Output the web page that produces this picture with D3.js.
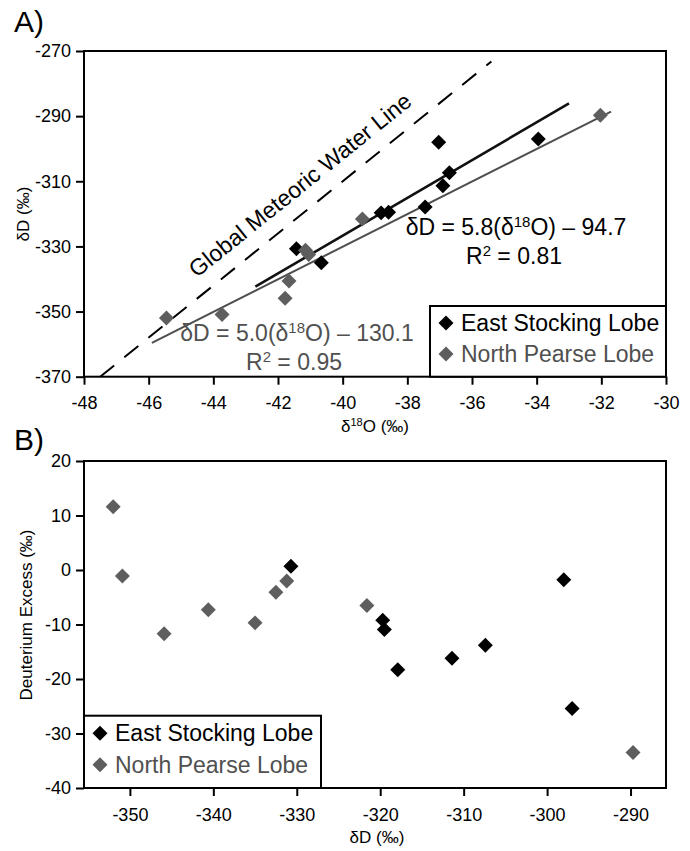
<!DOCTYPE html>
<html>
<head>
<meta charset="utf-8">
<script src="https://cdn.jsdelivr.net/npm/d3@7"></script>
<style>
  html, body { margin: 0; padding: 0; background: #fff; }
  svg text { font-family: "Liberation Sans", Arial, Helvetica, sans-serif; }
</style>
</head>
<body>
<svg id="chart" width="690" height="851"></svg>
<script>
// ---- Panel A: δ18O vs δD ----
const esO18_A = [-41.43, -40.66, -38.81, -38.58, -37.45, -36.90, -36.70, -37.03, -33.95];
const esDD_A  = [-330.7, -335.0, -319.7, -319.5, -317.9, -311.4, -307.4, -298.0, -297.0];
const npO18_A = [-45.45, -43.73, -41.78, -41.66, -41.05, -41.15, -39.39, -32.03];
const npDD_A  = [-352.0, -350.9, -345.9, -340.6, -332.5, -331.2, -321.6, -289.7];

// regression fits (slope, intercept) and the δ18O span each line covers
const esFit = [5.8, -94.7];
const npFit = [5.0, -130.1];
const gmwlFit = [8, 10];
const esFitSpan = [-42.7, -33.0];
const npFitSpan = [-45.9, -31.7];
const gmwlSpan = [-47.5, -35.4];

const aXTicks = [-48, -46, -44, -42, -40, -38, -36, -34, -32, -30];
const aYTicks = [-370, -350, -330, -310, -290, -270];

// ---- Panel B: δD vs deuterium excess ----
const esDD_B  = [-330.7, -319.7, -319.5, -317.9, -311.4, -307.4, -298.0, -297.0];
const esDxs_B = [0.7, -9.2, -10.9, -18.3, -16.2, -13.8, -1.8, -25.4];
const npDD_B  = [-352.0, -350.9, -345.9, -340.6, -335.0, -332.5, -331.2, -321.6, -289.7];
const npDxs_B = [11.6, -1.1, -11.7, -7.3, -9.7, -4.1, -2.0, -6.5, -33.5];

const bXTicks = [-350, -340, -330, -320, -310, -300, -290];
const bYTicks = [-40, -30, -20, -10, 0, 10, 20];

const seriesNames = ["East Stocking Lobe", "North Pearse Lobe"];
const seriesColors = ["#000000", "#5e5e5e"];
const textColors = ["#000000", "#505050"];

const svg = d3.select("#chart");
const diamond = d3.symbol(d3.symbolSquare, 112);

const xA = d3.scaleLinear().domain([-48, -30]).range([84, 666]);
const yA = d3.scaleLinear().domain([-370, -270]).range([376.7, 51]);
const xB = d3.scaleLinear().domain([-355.5, -285.75]).range([84, 666]);
const yB = d3.scaleLinear().domain([-40, 20]).range([788, 461]);

function drawAxes(g, x, y, xt, yt) {
  const xa = g.append("g").attr("transform", `translate(0,${y.range()[0]})`)
    .call(d3.axisBottom(x).tickValues(xt).tickSize(8).tickPadding(12).tickFormat(d => String(d)));
  const ya = g.append("g").attr("transform", `translate(${x.range()[0]},0)`)
    .call(d3.axisLeft(y).tickValues(yt).tickSize(8).tickPadding(5).tickFormat(d => String(d)));
  [xa, ya].forEach(a => {
    a.select(".domain").remove();
    a.selectAll(".tick line").attr("stroke", "#000").attr("stroke-width", 2);
    a.selectAll(".tick text").attr("font-size", 18).attr("fill", "#000")
      .style("font-family", "'Liberation Sans', Arial, sans-serif");
  });
  g.append("rect")
    .attr("x", x.range()[0]).attr("y", y.range()[1])
    .attr("width", x.range()[1] - x.range()[0])
    .attr("height", y.range()[0] - y.range()[1])
    .attr("fill", "none").attr("stroke", "#000").attr("stroke-width", 2);
}

function drawPoints(g, x, y, xs, ys, color) {
  g.append("g").selectAll("path").data(xs.map((v, i) => [v, ys[i]])).join("path")
    .attr("d", diamond)
    .attr("transform", d => `translate(${x(d[0])},${y(d[1])}) rotate(45)`)
    .attr("fill", color);
}

function fitLine(g, fit, span, color, width, dash) {
  const pts = span.map(v => [xA(v), yA(fit[0] * v + fit[1])]);
  const p = g.append("path").attr("d", d3.line()(pts))
    .attr("stroke", color).attr("stroke-width", width).attr("fill", "none");
  if (dash) p.attr("stroke-dasharray", dash);
}

function legend(g, x0, y0, w, h, rows) {
  g.append("rect").attr("x", x0).attr("y", y0).attr("width", w).attr("height", h)
    .attr("fill", "#fff").attr("stroke", "#000").attr("stroke-width", 2);
  seriesNames.forEach((name, i) => {
    const cy = y0 + rows[i];
    g.append("path").attr("d", diamond)
      .attr("transform", `translate(${x0 + 16},${cy}) rotate(45)`)
      .attr("fill", seriesColors[i]);
    g.append("text").attr("x", x0 + 31).attr("y", cy + 8)
      .attr("font-size", 23).attr("fill", textColors[i]).text(name);
  });
}

function eqLabel(g, cx, by, slopeTxt, interceptTxt, color) {
  const t = g.append("text").attr("x", cx).attr("y", by).attr("text-anchor", "middle")
    .attr("font-size", 23).attr("fill", color);
  t.append("tspan").text(`δD = ${slopeTxt}(δ`);
  t.append("tspan").attr("dy", -8).attr("font-size", 15).text("18");
  t.append("tspan").attr("dy", 8).text(`O) – ${interceptTxt}`);
}

function r2Label(g, cx, by, r2, color) {
  const t = g.append("text").attr("x", cx).attr("y", by).attr("text-anchor", "middle")
    .attr("font-size", 23).attr("fill", color);
  t.append("tspan").text("R");
  t.append("tspan").attr("dy", -8).attr("font-size", 15).text("2");
  t.append("tspan").attr("dy", 8).text(` = ${r2}`);
}

// ---------------- Panel A ----------------
const gA = svg.append("g");
gA.append("text").attr("x", 14).attr("y", 32).attr("font-size", 30).text("A)");

// Global Meteoric Water Line with its label running along it
fitLine(gA, gmwlFit, gmwlSpan, "#000", 2, "18,13");
const ang = Math.atan2(yA(gmwlFit[0] * -40 + gmwlFit[1]) - yA(gmwlFit[0] * -44 + gmwlFit[1]),
                       xA(-40) - xA(-44)) * 180 / Math.PI;
const lblAt = -44.2;
gA.append("text")
  .attr("transform", `translate(${xA(lblAt)},${yA(gmwlFit[0] * lblAt + gmwlFit[1])}) rotate(${ang})`)
  .attr("x", 0).attr("y", -16).attr("font-size", 23).attr("fill", "#000")
  .text("Global Meteoric Water Line");

fitLine(gA, npFit, npFitSpan, "#4e4e4e", 2);
fitLine(gA, esFit, esFitSpan, "#111", 2.6);

drawPoints(gA, xA, yA, esO18_A, esDD_A, seriesColors[0]);
drawPoints(gA, xA, yA, npO18_A, npDD_A, seriesColors[1]);

eqLabel(gA, 516, 235, "5.8", "94.7", textColors[0]);
r2Label(gA, 514, 264, "0.81", textColors[0]);
eqLabel(gA, 297, 341, "5.0", "130.1", textColors[1]);
r2Label(gA, 294, 370, "0.95", textColors[1]);

drawAxes(gA, xA, yA, aXTicks, aYTicks);
legend(gA, 430, 306, 236, 70.7, [17, 48]);

// axis titles
const xtA = gA.append("text").attr("x", 375).attr("y", 432).attr("text-anchor", "middle").attr("font-size", 17);
xtA.append("tspan").text("δ");
xtA.append("tspan").attr("dy", -6).attr("font-size", 11).text("18");
xtA.append("tspan").attr("dy", 6).text("O (‰)");
gA.append("text").attr("transform", "translate(29,214) rotate(-90)")
  .attr("text-anchor", "middle").attr("font-size", 17).text("δD (‰)");

// ---------------- Panel B ----------------
const gB = svg.append("g");
gB.append("text").attr("x", 14).attr("y", 450).attr("font-size", 30).text("B)");

drawPoints(gB, xB, yB, esDD_B, esDxs_B, seriesColors[0]);
drawPoints(gB, xB, yB, npDD_B, npDxs_B, seriesColors[1]);

drawAxes(gB, xB, yB, bXTicks, bYTicks);
legend(gB, 84, 715.7, 237, 72.3, [17.6, 49]);

gB.append("text").attr("x", 377).attr("y", 843).attr("text-anchor", "middle")
  .attr("font-size", 17).text("δD (‰)");
gB.append("text").attr("transform", "translate(32,615) rotate(-90)")
  .attr("text-anchor", "middle").attr("font-size", 17).text("Deuterium Excess (‰)");
</script>
</body>
</html>
